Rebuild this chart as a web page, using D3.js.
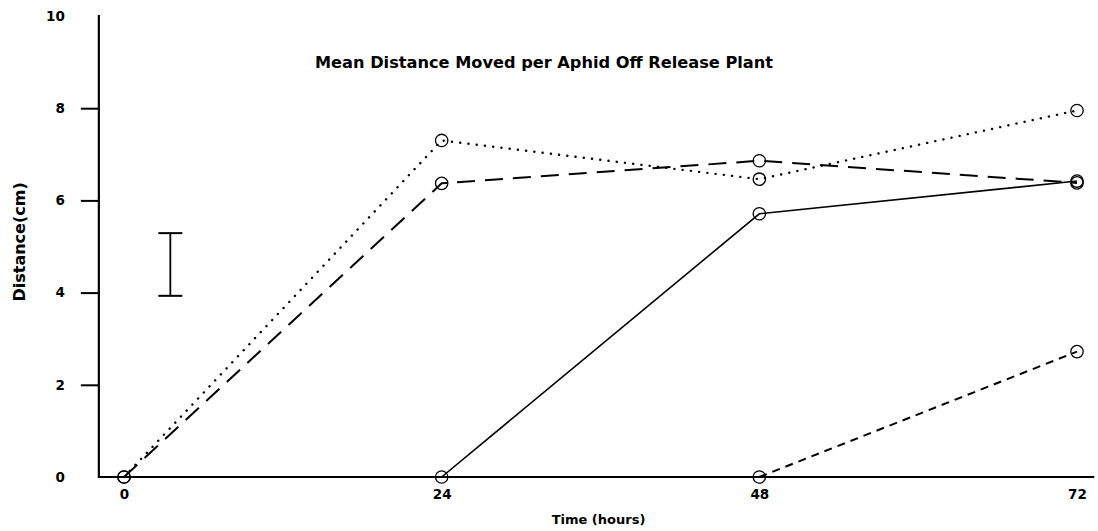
<!DOCTYPE html>
<html>
<head>
<meta charset="utf-8">
<script src="https://cdn.jsdelivr.net/npm/d3@7"></script>
<style>
  html, body { margin: 0; padding: 0; background: #fff; }
  svg { display: block; }
  text { font-family: "DejaVu Sans", "Liberation Sans", Arial, sans-serif; font-weight: bold; fill: #000; }
</style>
</head>
<body>
<svg id="chart" width="1098" height="531"></svg>
<script>
// Sampling times (hours) and y-axis ticks
const hours = [0, 24, 48, 72];
const yTicks = [0, 2, 4, 6, 8, 10];

// Mean distance moved (cm) for each group; null = not yet recorded
const dottedSeries      = [0, 7.30, 6.46, 7.95];
const longDashSeries    = [0, 6.37, 6.86, 6.38];
const solidSeries       = [null, 0, 5.71, 6.42];
const shortDashSeries   = [null, null, 0, 2.72];

// Least significant difference bar: time position, lower and upper value
const lsdBar = { hour: 3.5, low: 3.93, high: 5.29 };

const svg = d3.select("#chart");

const x = d3.scaleLinear().domain([0, 72]).range([124, 1077]);
const y = d3.scaleLinear().domain([0, 10]).range([477, 16]);

// Axes
const yAxis = d3.axisLeft(y).tickValues(yTicks).tickSize(18).tickPadding(16).tickFormat(d3.format("d"));
const gy = svg.append("g").attr("transform", `translate(${x(-1.9)},0)`).call(yAxis);
gy.select(".domain").remove();
gy.selectAll(".tick line")
  .attr("stroke", "#000").attr("stroke-width", 2)
  .attr("display", d => (d === 0 || d === 10) ? "none" : null);
gy.selectAll(".tick text").style("font-size", "13.5px").attr("font-family", null);

svg.append("line")
  .attr("x1", x(-1.9)).attr("x2", x(-1.9))
  .attr("y1", y(10) - 1).attr("y2", y(0) + 1)
  .attr("stroke", "#000").attr("stroke-width", 2.2);

const xAxis = d3.axisBottom(x).tickValues(hours).tickSize(0).tickPadding(12).tickFormat(d3.format("d"));
const gx = svg.append("g").attr("transform", `translate(0,${y(0)})`).call(xAxis);
gx.select(".domain").remove();
gx.selectAll(".tick text").style("font-size", "13.5px").attr("font-family", null);

svg.append("line")
  .attr("x1", x(-1.9)).attr("x2", x(73.3))
  .attr("y1", y(0)).attr("y2", y(0))
  .attr("stroke", "#000").attr("stroke-width", 2.2);

// Titles
svg.append("text")
  .attr("x", 544).attr("y", 68)
  .attr("text-anchor", "middle")
  .style("font-size", "16.2px")
  .text("Mean Distance Moved per Aphid Off Release Plant");

svg.append("text")
  .attr("x", x(36) - 2).attr("y", 524)
  .attr("text-anchor", "middle")
  .style("font-size", "13px")
  .text("Time (hours)");

svg.append("text")
  .attr("transform", `translate(25,${y(5.1)}) rotate(-90)`)
  .attr("text-anchor", "middle")
  .style("font-size", "16px")
  .text("Distance(cm)");

// Series lines
const lineGen = d3.line()
  .defined(d => d.v !== null)
  .x(d => x(d.t))
  .y(d => y(d.v));

const series = [
  { values: dottedSeries,    dash: "0.1,8.2", width: 2.4, cap: "round" },
  { values: longDashSeries,  dash: "18,10",   width: 2.0, cap: "butt" },
  { values: solidSeries,     dash: null,      width: 1.6, cap: "butt" },
  { values: shortDashSeries, dash: "8,6",     width: 2.0, cap: "butt" }
];

series.forEach(s => {
  const pts = hours.map((t, i) => ({ t, v: s.values[i] }));
  svg.append("path")
    .datum(pts)
    .attr("d", lineGen)
    .attr("fill", "none")
    .attr("stroke", "#000")
    .attr("stroke-width", s.width)
    .attr("stroke-linecap", s.cap)
    .attr("stroke-dasharray", s.dash);
});

// Open circle markers
const markers = [];
series.forEach(s => hours.forEach((t, i) => {
  if (s.values[i] !== null) markers.push({ t, v: s.values[i] });
}));
svg.append("g").selectAll("circle")
  .data(markers)
  .join("circle")
  .attr("cx", d => x(d.t))
  .attr("cy", d => y(d.v))
  .attr("r", 6.2)
  .attr("fill", "none")
  .attr("stroke", "#000")
  .attr("stroke-width", 1.3);

// LSD error bar
const bar = svg.append("g").attr("stroke", "#000");
bar.append("line")
  .attr("x1", x(lsdBar.hour)).attr("x2", x(lsdBar.hour))
  .attr("y1", y(lsdBar.high)).attr("y2", y(lsdBar.low))
  .attr("stroke-width", 1.8);
[lsdBar.high, lsdBar.low].forEach(v => {
  bar.append("line")
    .attr("x1", x(lsdBar.hour) - 12).attr("x2", x(lsdBar.hour) + 12)
    .attr("y1", y(v)).attr("y2", y(v))
    .attr("stroke-width", 2);
});
</script>
</body>
</html>
